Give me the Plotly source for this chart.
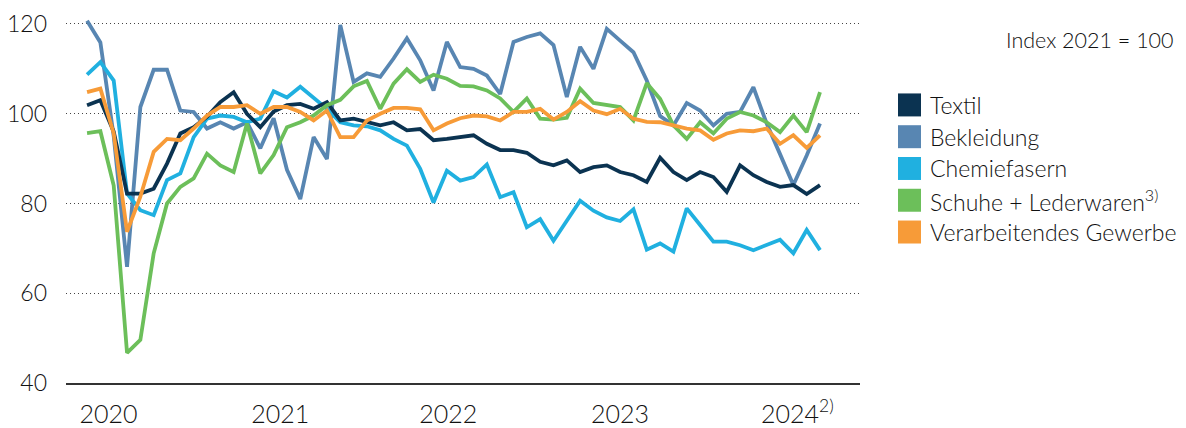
import plotly.graph_objects as go

# monthly index values, Jan 2020 .. Aug 2024 (index 0..55)
textil = [101.9, 103.0, 96.0, 82.2, 82.2, 83.3, 88.9, 95.6, 97.0, 99.3, 102.6, 104.8,
          100.0, 97.0, 100.5, 101.9, 102.2, 101.1, 102.6, 98.5, 98.9, 98.1, 97.4, 98.1,
          96.3, 96.6, 94.1, 94.4, 94.8, 95.2, 93.3, 91.9, 91.9, 91.3, 89.3, 88.5,
          89.6, 87.0, 88.1, 88.5, 87.0, 86.3, 84.8, 90.2, 87.0, 85.2, 87.0, 85.9,
          82.6, 88.5, 86.3, 84.8, 83.7, 84.1, 82.1, 84.1]
bekleidung = [120.7, 115.9, 95.0, 65.9, 101.5, 109.8, 109.8, 100.7, 100.4, 96.7, 98.1, 96.7,
              98.1, 92.3, 99.0, 87.5, 81.0, 94.8, 89.9, 119.8, 107.1, 109.0, 108.2, 112.3,
              116.8, 111.9, 105.2, 116.0, 110.4, 110.0, 108.5, 104.4, 116.0, 117.1, 117.9, 115.3,
              103.7, 114.9, 110.0, 118.9, 116.3, 113.7, 107.4, 99.5, 97.4, 102.4, 100.7, 97.4,
              100.0, 100.4, 105.9, 97.8, 91.0, 84.1, 90.7, 97.8]
chemiefasern = [108.7, 111.5, 107.4, 82.2, 78.5, 77.4, 85.2, 86.7, 94.8, 98.9, 99.6, 99.3,
                98.1, 98.9, 105.0, 103.6, 106.0, 103.6, 101.1, 98.1, 97.4, 97.2, 96.3, 94.4,
                92.9, 87.7, 80.2, 87.3, 85.1, 85.9, 88.7, 81.4, 82.5, 74.7, 76.5, 71.7,
                76.1, 80.6, 78.4, 76.9, 76.1, 78.7, 69.7, 71.1, 69.3, 78.9, 75.2, 71.5,
                71.5, 70.7, 69.6, 70.7, 71.9, 68.9, 74.1, 69.6]
schuhe = [95.7, 96.1, 84.0, 46.7, 49.6, 68.9, 80.0, 83.7, 85.6, 91.1, 88.5, 87.0,
          97.8, 86.7, 90.8, 97.0, 98.1, 99.6, 101.9, 103.1, 106.1, 107.3, 101.1, 106.7,
          109.9, 107.1, 108.7, 107.8, 106.2, 106.1, 105.2, 103.4, 100.4, 103.4, 98.9, 98.7,
          99.1, 105.6, 102.4, 102.0, 101.5, 98.5, 106.8, 103.3, 97.4, 94.4, 98.1, 95.6,
          98.9, 100.4, 99.6, 98.1, 95.9, 99.6, 95.9, 104.8]
gewerbe = [104.8, 105.6, 95.6, 73.7, 81.5, 91.5, 94.4, 94.1, 96.7, 99.6, 101.5, 101.5,
           101.9, 100.0, 101.5, 101.5, 100.4, 98.5, 100.7, 94.8, 94.8, 98.5, 100.0, 101.3,
           101.3, 101.0, 96.3, 97.8, 99.0, 99.6, 99.4, 98.5, 100.4, 100.4, 101.1, 98.7,
           100.4, 102.8, 100.7, 99.9, 101.1, 98.9, 98.2, 98.1, 97.4, 96.7, 96.3, 94.2,
           95.6, 96.3, 96.1, 96.7, 93.3, 95.2, 92.4, 95.2]

months = list(range(len(textil)))
year_ticks = [1.6, 14.5, 27.1, 40.0, 53.3]
year_labels = ["2020", "2021", "2022", "2023", "2024<sup>2)</sup>"]
y_ticks = [40, 60, 80, 100, 120]

names = ["Textil", "Bekleidung", "Chemiefasern", "Schuhe + Lederwaren<sup>3)</sup>",
         "Verarbeitendes Gewerbe"]
colors = ["#0b3351", "#5886b2", "#20b0e0", "#6cbf5a", "#f79b38"]
series = [textil, bekleidung, chemiefasern, schuhe, gewerbe]

# the page body has an 8px margin: shift everything up/left by 8px
OFF = 8
W, H = 1186 - 2 * OFF, 428
L, R, T, B = 66 - OFF, 326 - OFF, 15 - OFF, H - (383.3 - OFF)
FONT = "Lato"
TXT = "#111111"


def px_x(x):
    return (x - OFF - L) / (W - L - R)


def px_y(y):
    return (H - B - (y - OFF)) / (H - T - B)


fig = go.Figure()
for idx in [1, 2, 0, 3, 4]:
    fig.add_trace(go.Scatter(x=months, y=series[idx], mode="lines", name=names[idx],
                             line=dict(color=colors[idx], width=3.8), showlegend=False))

# hand-made legend
shapes = []
annotations = []
for k, (n, c) in enumerate(zip(names, colors)):
    cy = 105 + k * 31.8
    shapes.append(dict(type="rect", xref="paper", yref="paper",
                       x0=px_x(898), x1=px_x(921), y0=px_y(cy + 11.5), y1=px_y(cy - 11.5),
                       fillcolor=c, line=dict(width=0)))
    annotations.append(dict(text=n, xref="paper", yref="paper", x=px_x(928), y=px_y(cy),
                            xanchor="left", yanchor="middle", showarrow=False,
                            font=dict(family=FONT, size=23, color=TXT, weight=300)))
annotations.append(dict(text="Index 2021 = 100", xref="paper", yref="paper",
                        x=px_x(1176), y=px_y(40), xanchor="right", yanchor="middle",
                        showarrow=False, font=dict(family=FONT, size=21.5, color=TXT, weight=300)))

fig.update_layout(
    template="none",
    width=W, height=H,
    margin=dict(l=L, r=R, t=T, b=B, pad=0, autoexpand=False),
    paper_bgcolor="white", plot_bgcolor="white",
    font=dict(family=FONT, color=TXT, weight=300),
    shapes=shapes, annotations=annotations,
    showlegend=False,
)
fig.update_xaxes(range=[-1.58, 58.0], tickvals=year_ticks, ticktext=year_labels,
                 showgrid=False, zeroline=False, showline=True, linecolor="#333333",
                 linewidth=1.5, ticks="", ticklabelstandoff=8, automargin=False,
                 tickfont=dict(family=FONT, size=25, color=TXT, weight=300))
fig.update_yaxes(range=[40, 122], tickvals=y_ticks, showgrid=True, gridcolor="#444444",
                 griddash="1px,3px", gridwidth=1, zeroline=False, showline=False,
                 ticks="", ticklabelstandoff=18, automargin=False,
                 tickfont=dict(family=FONT, size=23, color=TXT, weight=300))

fig.write_html("out.html")
